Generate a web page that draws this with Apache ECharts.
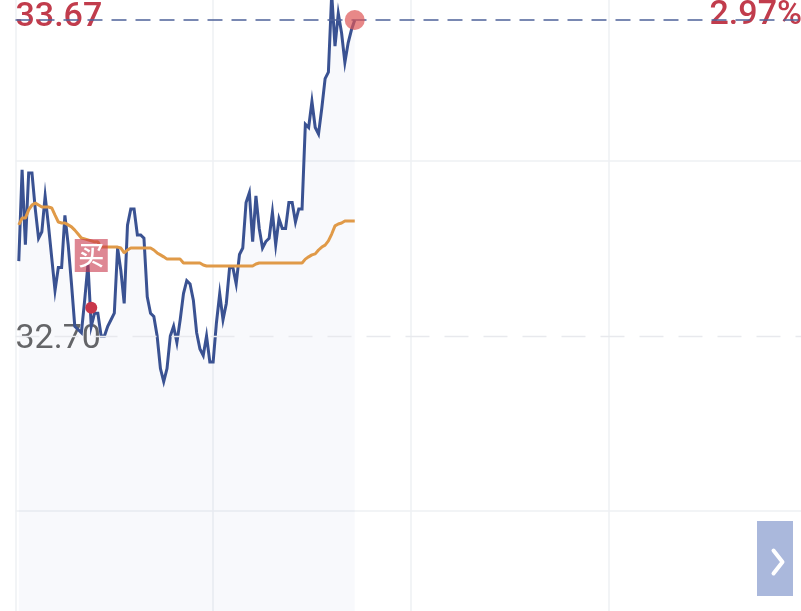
<!DOCTYPE html>
<html>
<head>
<meta charset="utf-8">
<title>分时图</title>
<style>
    html, body { margin: 0; padding: 0; background: #fff; overflow: hidden; }
    .chart { width: 801px; height: 611px; }
</style>
<script src="https://cdn.jsdelivr.net/npm/echarts@6/dist/echarts.min.js"></script>
</head>
<body>
<div class="chart"></div>
<script>
// 分时价格
var prices = [
    32.93, 33.21, 32.98, 33.20, 33.20, 33.09, 33.00, 33.02, 33.13, 33.04,
    32.94, 32.84, 32.91, 32.91, 33.07, 32.98, 32.86, 32.73, 32.72, 32.71,
    32.81, 32.92, 32.73, 32.77, 32.77, 32.70, 32.70, 32.73, 32.75, 32.77,
    32.97, 32.90, 32.80, 33.04, 33.09, 33.09, 33.01, 33.01, 33.00, 32.82,
    32.77, 32.76, 32.70, 32.60, 32.56, 32.60, 32.70, 32.73, 32.68, 32.75,
    32.83, 32.87, 32.86, 32.81, 32.71, 32.66, 32.64, 32.70, 32.62, 32.62,
    32.74, 32.83, 32.75, 32.80, 32.91, 32.91, 32.86, 32.95, 32.97, 33.11,
    33.14, 32.99, 33.13, 33.03, 32.97, 32.99, 33.00, 33.08, 32.98, 33.06,
    33.03, 33.03, 33.11, 33.11, 33.05, 33.09, 33.09, 33.35, 33.34, 33.42,
    33.34, 33.32, 33.40, 33.49, 33.51, 33.75, 33.59, 33.69, 33.63, 33.54,
    33.60, 33.64, 33.67
];
// 均价
var averages = [
    33.041, 33.062, 33.062, 33.087, 33.102, 33.108, 33.102, 33.096, 33.096, 33.096,
    33.093, 33.071, 33.050, 33.047, 33.047, 33.041, 33.035, 33.025, 33.013, 33.001,
    32.998, 32.995, 32.992, 32.989, 32.989, 32.973, 32.973, 32.973, 32.973, 32.973,
    32.973, 32.970, 32.955, 32.964, 32.970, 32.970, 32.970, 32.970, 32.970, 32.970,
    32.970, 32.964, 32.955, 32.949, 32.943, 32.936, 32.936, 32.936, 32.936, 32.936,
    32.924, 32.924, 32.924, 32.924, 32.924, 32.924, 32.918, 32.915, 32.915, 32.915,
    32.915, 32.915, 32.915, 32.915, 32.915, 32.915, 32.915, 32.915, 32.915, 32.915,
    32.915, 32.915, 32.921, 32.924, 32.924, 32.924, 32.924, 32.924, 32.924, 32.924,
    32.924, 32.924, 32.924, 32.924, 32.924, 32.924, 32.924, 32.936, 32.943, 32.949,
    32.952, 32.964, 32.973, 32.979, 32.992, 33.013, 33.038, 33.044, 33.047, 33.053,
    33.053, 33.053, 33.053
];
var yMin = 31.6256;
var yMax = 33.7744;
var prevClose = 32.70;
var lastPrice = 33.67;
var gridPrices = [33.237, 32.163];
var minuteTicks = [0, 60, 120, 180, 240];
var buyMinute = 23;
var buyPrice = 32.787;
var buyBoxPrice = 32.947;
var priceLabel = '33.67';
var closeLabel = '32.70';
var percentLabel = '2.97%';

function toPoints(list) {
    return list.map(function (v, i) { return [i + 1, v]; });
}

var myChart = echarts.init(document.querySelector('.chart'), null, { renderer: 'canvas' });
var option = {
    animation: false,
    backgroundColor: '#fff',
    textStyle: { fontFamily: 'Roboto' },
    grid: { left: 15.5, right: -5, top: -14, bottom: -75, outerBoundsMode: 'none' },
    xAxis: {
        type: 'value',
        min: minuteTicks[0],
        max: minuteTicks[minuteTicks.length - 1],
        interval: 60,
        axisLine: { show: false },
        axisTick: { show: false },
        axisLabel: { show: false },
        splitLine: { show: true, lineStyle: { color: '#eef0f3', width: 1.5 } }
    },
    yAxis: {
        type: 'value',
        min: yMin,
        max: yMax,
        axisLine: { show: false },
        axisTick: { show: false, customValues: gridPrices },
        axisLabel: { show: false },
        splitLine: { show: true, lineStyle: { color: '#eef0f3', width: 1.5 } }
    },
    series: [
        {
            // 价格文字放在线的下面
            name: 'labels',
            type: 'scatter',
            z: 1,
            symbolSize: 0,
            silent: true,
            itemStyle: { opacity: 1 },
            label: { show: true, fontFamily: 'Roboto', fontSize: 34 },
            data: [
                {
                    value: [0, lastPrice],
                    label: { formatter: priceLabel, fontWeight: 500, position: 'right', color: '#c13c4c', offset: [-5, -3] }
                },
                {
                    value: [0, prevClose],
                    label: { formatter: closeLabel, position: 'right', color: '#666', offset: [-5, 3] }
                },
                {
                    value: [240, lastPrice],
                    label: { formatter: percentLabel, fontWeight: 500, position: 'left', color: '#c13c4c', offset: [1, -5] }
                }
            ]
        },
        {
            name: '价格',
            type: 'line',
            z: 3,
            data: toPoints(prices),
            showSymbol: false,
            symbol: 'none',
            lineStyle: { color: '#3a5292', width: 3, join: 'miter' },
            areaStyle: { color: 'rgba(60,85,160,0.052)', origin: 'start' },
            markLine: {
                silent: true,
                symbol: 'none',
                label: { show: false },
                data: [
                    {
                        yAxis: lastPrice,
                        lineStyle: { color: '#4d6199', width: 1.6, type: [15, 9] }
                    },
                    {
                        yAxis: prevClose,
                        lineStyle: { color: '#e8e9ed', width: 1.4, type: [24, 15] }
                    }
                ]
            }
        },
        {
            name: '均价',
            type: 'line',
            z: 4,
            data: toPoints(averages),
            showSymbol: false,
            symbol: 'none',
            lineStyle: { color: '#e09a48', width: 3 }
        },
        {
            name: 'marks',
            type: 'scatter',
            z: 5,
            silent: true,
            itemStyle: { opacity: 1 },
            data: [
                {
                    value: [prices.length, lastPrice],
                    symbol: 'circle',
                    symbolSize: 20,
                    itemStyle: { color: 'rgba(222,85,85,0.7)', opacity: 1 }
                },
                {
                    value: [buyMinute, buyPrice],
                    symbol: 'circle',
                    symbolSize: 12,
                    itemStyle: { color: '#c8374a', opacity: 1 }
                },
                {
                    value: [buyMinute, buyBoxPrice],
                    symbol: 'rect',
                    symbolSize: 33,
                    itemStyle: { color: 'rgba(200,55,75,0.6)', opacity: 1 },
                    label: {
                        show: true,
                        formatter: '买',
                        position: 'inside',
                        color: '#fff',
                        fontSize: 26,
                        fontWeight: 500,
                        fontFamily: 'Noto Sans CJK SC'
                    }
                }
            ]
        }
    ],
    graphic: [
        {
            type: 'rect',
            right: 8,
            bottom: 15,
            shape: { width: 36, height: 75 },
            style: { fill: '#aab8dc' }
        },
        {
            type: 'polyline',
            left: 771,
            top: 548,
            shape: { points: [[0, 0], [9, 11.5], [0, 23]] },
            style: { stroke: '#fff', lineWidth: 4, lineCap: 'round', lineJoin: 'round', fill: null }
        }
    ]
};

myChart.setOption(option);
</script>
</body>
</html>
